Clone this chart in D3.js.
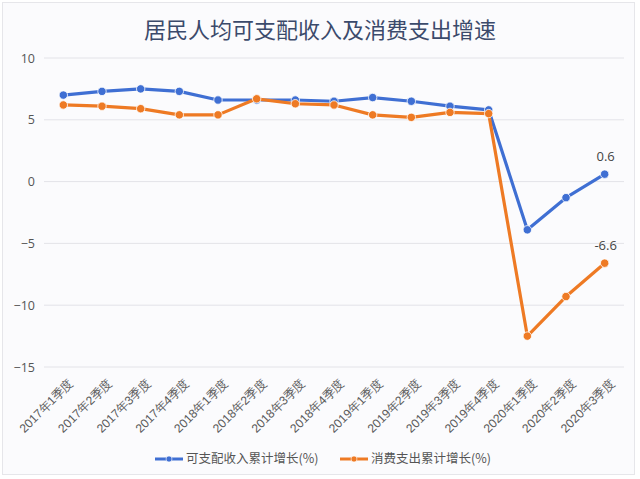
<!DOCTYPE html>
<html><head><meta charset="utf-8">
<script src="https://cdn.jsdelivr.net/npm/d3@7"></script>
<style>
body{margin:0;padding:0;background:#fff;}
svg{display:block;font-family:"Noto Sans CJK SC","Noto Sans",sans-serif;}
</style></head>
<body>
<svg id="chart" width="640" height="479"></svg>
<script>
const categories = ["2017年1季度","2017年2季度","2017年3季度","2017年4季度","2018年1季度","2018年2季度","2018年3季度","2018年4季度","2019年1季度","2019年2季度","2019年3季度","2019年4季度","2020年1季度","2020年2季度","2020年3季度"];
const incomeGrowth = [7.0,7.3,7.5,7.3,6.6,6.6,6.6,6.5,6.8,6.5,6.1,5.8,-3.9,-1.3,0.6];
const spendGrowth = [6.2,6.1,5.9,5.4,5.4,6.7,6.3,6.2,5.4,5.2,5.6,5.5,-12.5,-9.3,-6.6];
const yTicks = [10,5,0,-5,-10,-15];
const seriesNames = ["可支配收入累计增长(%)","消费支出累计增长(%)"];
const title = "居民人均可支配收入及消费支出增速";

const svg = d3.select("#chart");
svg.append("rect").attr("x",2.5).attr("y",2.5).attr("width",632).attr("height",472)
  .attr("fill","#fbfbfd").attr("stroke","#e6e6ea");

svg.append("text").attr("x",320).attr("y",38).attr("text-anchor","middle")
  .attr("font-size",22).attr("fill","#3b4a6b").text(title);

const x = d3.scalePoint().domain(categories).range([44,624]).padding(0.5);
const y = d3.scaleLinear().domain([-15,10]).range([367,58]);

const grid = svg.append("g");
yTicks.forEach(t=>{
  grid.append("line").attr("x1",44).attr("x2",624).attr("y1",y(t)).attr("y2",y(t))
    .attr("stroke","#e3e3e8").attr("stroke-width",1);
});

const yAxis = d3.axisLeft(y).tickValues(yTicks).tickSize(0).tickPadding(8);
const ya = svg.append("g").attr("transform","translate(38,0)").call(yAxis);
ya.select(".domain").remove();
ya.selectAll("text").attr("font-size",12.5).attr("fill","#555").attr("font-family","'Open Sans','Noto Sans',sans-serif").attr("x",-3);

const xAxis = d3.axisBottom(x).tickSize(0).tickPadding(0);
const xa = svg.append("g").attr("transform","translate(0,370)").call(xAxis);
xa.select(".domain").remove();
xa.selectAll("text").attr("font-size",12.2).attr("fill","#5a5a5a")
  .attr("text-anchor","end").attr("dy","0.35em")
  .attr("transform","translate(7,11) rotate(-45)");

const series = [
  {name:seriesNames[0], values:incomeGrowth, color:"#3f6fd3"},
  {name:seriesNames[1], values:spendGrowth, color:"#ee7a24"}
];
const line = d3.line().x((d,i)=>x(categories[i])).y(d=>y(d));
series.forEach(s=>{
  const g = svg.append("g");
  g.append("path").datum(s.values).attr("d",line).attr("fill","none")
    .attr("stroke",s.color).attr("stroke-width",3.2).attr("stroke-linejoin","round");
  g.selectAll("circle").data(s.values).enter().append("circle")
    .attr("cx",(d,i)=>x(categories[i])).attr("cy",d=>y(d)).attr("r",4.2)
    .attr("fill",s.color).attr("stroke","#fff").attr("stroke-width",0.8);
});

// data labels for last points
series.forEach(s=>{
  const n = s.values.length-1;
  svg.append("text").attr("x",x(categories[n])+1).attr("y",y(s.values[n])-13)
    .attr("text-anchor","middle").attr("font-size",13).attr("fill","#444")
    .attr("font-family","'Open Sans','Noto Sans',sans-serif")
    .text(s.values[n].toFixed(1));
});

// legend
const legendX = [155,340];
series.forEach((s,i)=>{
  const g = svg.append("g").attr("transform",`translate(${legendX[i]},459)`);
  g.append("line").attr("x1",0).attr("x2",28).attr("y1",0).attr("y2",0)
    .attr("stroke",s.color).attr("stroke-width",3);
  g.append("circle").attr("cx",14).attr("cy",0).attr("r",3).attr("fill",s.color).attr("stroke","#fff").attr("stroke-width",0.6);
  g.append("text").attr("x",31).attr("y",0).attr("dy","0.35em").attr("font-size",12.5)
    .attr("fill","#555").text(s.name);
});
</script>
</body></html>
